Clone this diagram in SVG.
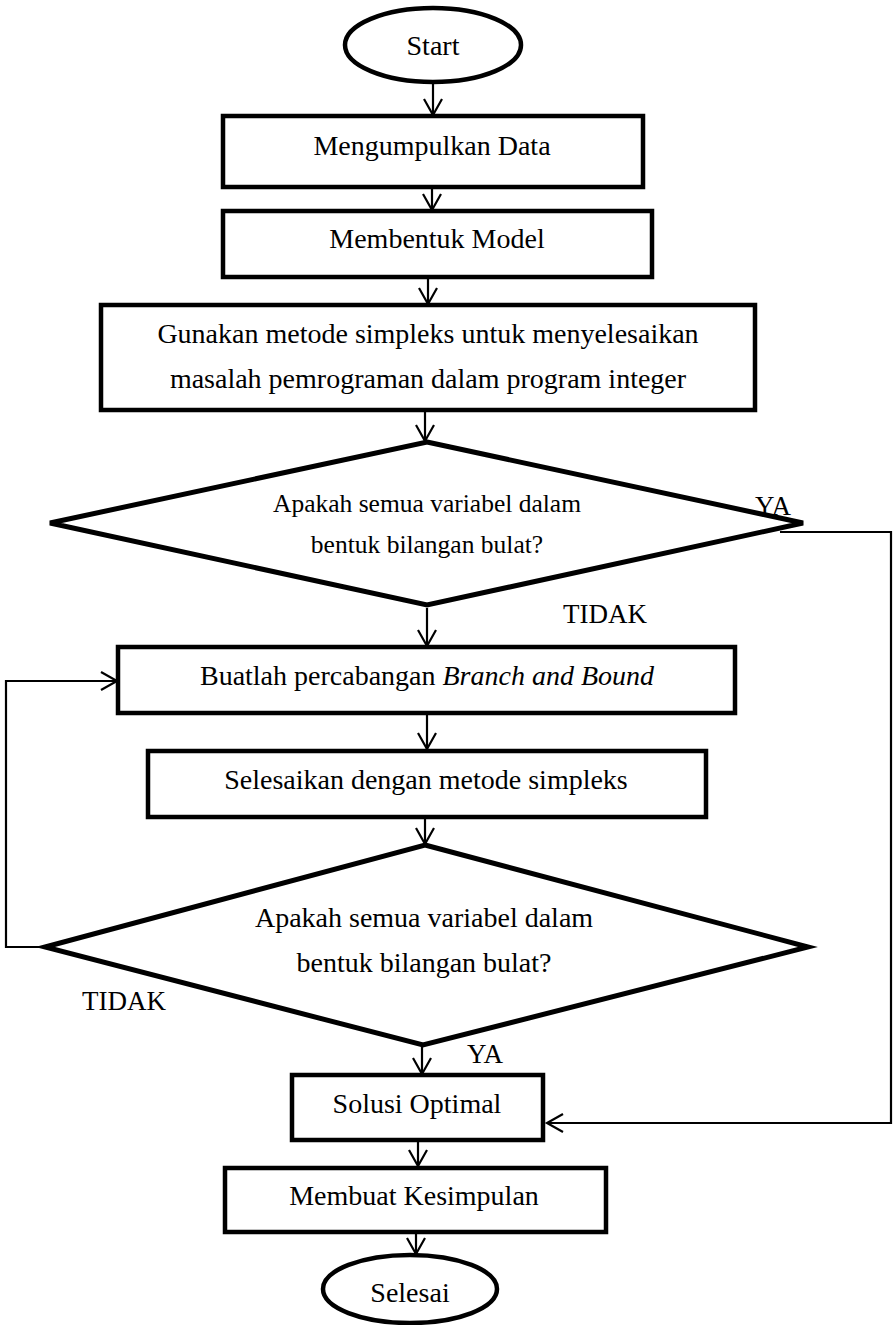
<svg xmlns="http://www.w3.org/2000/svg" width="894" height="1325" viewBox="0 0 894 1325">
<defs>
<marker id="ah" markerUnits="userSpaceOnUse" markerWidth="20" markerHeight="22" refX="17" refY="10" orient="auto">
<path d="M1,1 L17,10 L1,19" fill="none" stroke="#000" stroke-width="2.2"/>
</marker>
<style>
.sh{fill:#fff;stroke:#000;stroke-width:4.5}
.dm{fill:#fff;stroke:#000;stroke-width:5;stroke-linejoin:miter}
.t{font-family:"Liberation Serif","Times New Roman",serif;font-size:28px;fill:#000;text-anchor:middle}
.ts{font-size:25.5px}
.lb{font-family:"Liberation Serif","Times New Roman",serif;font-size:27px;fill:#000}
.c{fill:none;stroke:#000;stroke-width:2.2}
</style>
</defs>
<rect width="894" height="1325" fill="#fff"/>
<g id="connectors">
<line class="c" x1="433" y1="82" x2="433" y2="115" marker-end="url(#ah)"/>
<line class="c" x1="432" y1="176" x2="432" y2="210" marker-end="url(#ah)"/>
<line class="c" x1="428" y1="278" x2="428" y2="304" marker-end="url(#ah)"/>
<line class="c" x1="425" y1="411" x2="425" y2="441" marker-end="url(#ah)"/>
<line class="c" x1="427" y1="608" x2="427" y2="646" marker-end="url(#ah)"/>
<line class="c" x1="427" y1="715" x2="427" y2="749" marker-end="url(#ah)"/>
<line class="c" x1="425" y1="818" x2="425" y2="844" marker-end="url(#ah)"/>
<line class="c" x1="422" y1="1046" x2="422" y2="1074" marker-end="url(#ah)"/>
<line class="c" x1="418" y1="1136" x2="418" y2="1166" marker-end="url(#ah)"/>
<line class="c" x1="416" y1="1233" x2="416" y2="1254" marker-end="url(#ah)"/>
<polyline class="c" points="780,532 891,532 891,1123 547,1123" marker-end="url(#ah)"/>
<polyline class="c" points="45,947 6,947 6,681 117,681" marker-end="url(#ah)"/>
</g>
<g id="start">
<ellipse class="sh" cx="433" cy="45" rx="88" ry="37"/>
<text class="t" x="433" y="55">Start</text>
</g>
<g id="collect">
<rect class="sh" x="223" y="116" width="420" height="71"/>
<text class="t" x="432" y="155">Mengumpulkan Data</text>
</g>
<g id="model">
<rect class="sh" x="223" y="211" width="429" height="66"/>
<text class="t" x="437" y="248">Membentuk Model</text>
</g>
<g id="simplex">
<rect class="sh" x="101" y="305" width="654" height="105"/>
<text class="t" x="428" y="343">Gunakan metode simpleks untuk menyelesaikan</text>
<text class="t" x="428" y="388">masalah pemrograman dalam program integer</text>
</g>
<g id="decision1">
<polygon class="dm" points="427,442 803,523 427,605 50,523"/>
<text class="t ts" x="427" y="512">Apakah semua variabel dalam</text>
<text class="t ts" x="427" y="553">bentuk bilangan bulat?</text>
</g>
<g id="branch">
<rect class="sh" x="118" y="647" width="617" height="66"/>
<text class="t" x="427" y="685">Buatlah percabangan <tspan font-style="italic">Branch and Bound</tspan></text>
</g>
<g id="solve">
<rect class="sh" x="148" y="751" width="558" height="66"/>
<text class="t" x="426" y="789">Selesaikan dengan metode simpleks</text>
</g>
<g id="decision2">
<polygon class="dm" points="425,845 808,947 423,1045 45,947"/>
<text class="t" x="424" y="927">Apakah semua variabel dalam</text>
<text class="t" x="424" y="972">bentuk bilangan bulat?</text>
</g>
<g id="optimal">
<rect class="sh" x="292" y="1075" width="251" height="65"/>
<text class="t" x="417" y="1113">Solusi Optimal</text>
</g>
<g id="conclusion">
<rect class="sh" x="225" y="1168" width="381" height="64"/>
<text class="t" x="414" y="1205">Membuat Kesimpulan</text>
</g>
<g id="end">
<ellipse class="sh" cx="410" cy="1289" rx="87" ry="34"/>
<text class="t" x="410" y="1302">Selesai</text>
</g>
<g id="labels">
<text class="lb" x="755" y="515">YA</text>
<text class="lb" x="563" y="623">TIDAK</text>
<text class="lb" x="82" y="1010">TIDAK</text>
<text class="lb" x="467" y="1063">YA</text>
</g>
</svg>
